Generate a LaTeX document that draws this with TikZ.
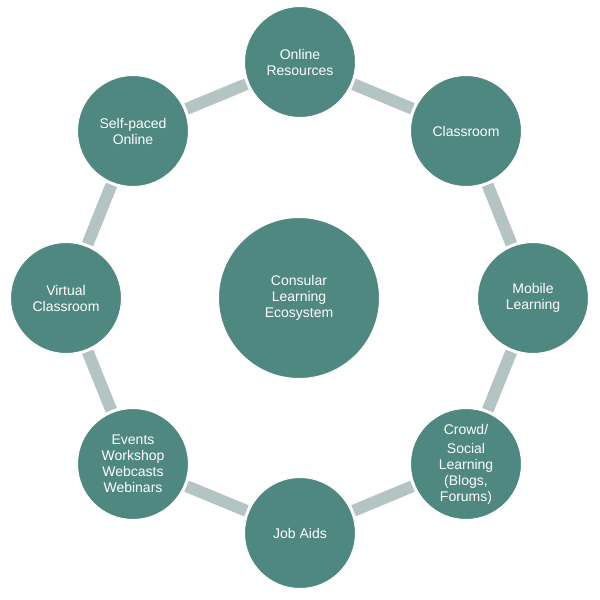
\documentclass[tikz,border=0pt]{standalone}
\usepackage{fontspec}
\setmainfont{Liberation Sans}
\definecolor{teal}{HTML}{4E8880}
\definecolor{band}{HTML}{B4C4C2}
\begin{document}
\begin{tikzpicture}[x=1pt,y=-1pt,
  bub/.style={circle,fill=teal,draw=white,line width=1pt,minimum size=111pt,inner sep=0pt,text=white,align=center,font=\fontsize{14}{16}\selectfont},
  big/.style={bub,minimum size=161pt},
  bandln/.style={band,line width=12pt,shorten <=58pt,shorten >=58pt}]
\useasboundingbox (0,0) rectangle (600,600);
\foreach \p/\q in {300/62,466/131,533/298,466/464,300/533,133/464,66/298,133/131}
  \coordinate (tmp\p\q) at (\p,\q);
\draw[bandln] (300,62) -- (466,131);
\draw[bandln] (466,131) -- (533,298);
\draw[bandln] (533,298) -- (466,464);
\draw[bandln] (466,464) -- (300,533);
\draw[bandln] (300,533) -- (133,464);
\draw[bandln] (133,464) -- (66,298);
\draw[bandln] (66,298) -- (133,131);
\draw[bandln] (133,131) -- (300,62);
\node[big] (c) at (299,298) {Consular\\Learning\\Ecosystem};
\node[bub] (n0) at (300,62) {Online\\Resources};
\node[bub] (n1) at (466,131) {Classroom};
\node[bub] (n2) at (533,298) {Mobile\\Learning};
\node[bub] (n3) at (466,464) {Crowd/\\[3pt]Social\\Learning\\(Blogs,\\Forums)};
\node[bub] (n4) at (300,533) {Job Aids};
\node[bub] (n5) at (133,464) {Events\\Workshop\\Webcasts\\Webinars};
\node[bub] (n6) at (66,298) {Virtual\\Classroom};
\node[bub] (n7) at (133,131) {Self-paced\\Online};
\end{tikzpicture}
\end{document}
